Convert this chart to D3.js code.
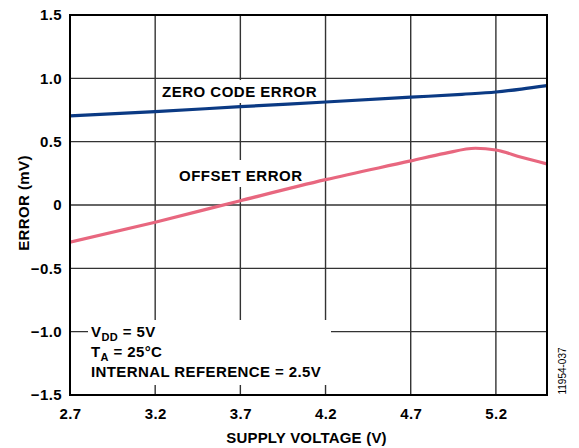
<!DOCTYPE html>
<html><head><meta charset="utf-8">
<script src="https://cdn.jsdelivr.net/npm/d3@7"></script>
<style>
body{margin:0;background:#fff}
svg{display:block}
text{font-family:"Liberation Sans",Arial,Helvetica,sans-serif;font-weight:bold;fill:#000}
</style>
</head><body><svg id="c" width="579" height="448"></svg>
<script>
const xTicks=[2.7,3.2,3.7,4.2,4.7,5.2];
const xTickLabels=["2.7","3.2","3.7","4.2","4.7","5.2"];
const yTicks=[-1.5,-1.0,-0.5,0,0.5,1.0,1.5];
const yTickLabels=["\u22121.5","\u22121.0","\u22120.5","0","0.5","1.0","1.5"];
const zeroVoltage=[2.7,3.2,3.7,4.2,4.7,5.0,5.2,5.35,5.5];
const zeroCodeError=[0.703,0.737,0.776,0.813,0.851,0.874,0.892,0.915,0.942];
const offsetVoltage=[2.7,3.2,3.7,4.2,4.7,4.9,5.08,5.2,5.35,5.5];
const offsetError=[-0.294,-0.136,0.034,0.200,0.348,0.408,0.448,0.434,0.377,0.324];

const W=579,H=448,L=70,R=547,T=15,B=395;
const svg=d3.select("#c");
const x=d3.scaleLinear().domain([2.7,5.5]).range([L,R]);
const y=d3.scaleLinear().domain([-1.5,1.5]).range([B,T]);

// grid
const g=svg.append("g");
g.selectAll("line.v").data(xTicks.slice(1)).join("line")
 .attr("x1",d=>x(d)).attr("x2",d=>x(d)).attr("y1",T).attr("y2",B)
 .attr("stroke","#333").attr("stroke-width",1.4);
g.selectAll("line.h").data(yTicks.slice(1,-1)).join("line")
 .attr("y1",d=>y(d)).attr("y2",d=>y(d)).attr("x1",L).attr("x2",R)
 .attr("stroke","#333").attr("stroke-width",1.4);

// white label backgrounds
const bgs=[[159,80,162,23],[176,160,130,27],[88,320,243,65]];
svg.selectAll("rect.bg").data(bgs).join("rect")
 .attr("x",d=>d[0]).attr("y",d=>d[1]).attr("width",d=>d[2]).attr("height",d=>d[3]).attr("fill","#fff");

// curves
const line=d3.line().curve(d3.curveMonotoneX);
const clip=svg.append("clipPath").attr("id","pc").append("rect").attr("x",L).attr("y",T).attr("width",R-L).attr("height",B-T);
svg.append("path").attr("clip-path","url(#pc)")
 .attr("d",line(zeroVoltage.map((v,i)=>[x(v),y(zeroCodeError[i])])))
 .attr("fill","none").attr("stroke","#0b3a84").attr("stroke-width",3.2);
svg.append("path").attr("clip-path","url(#pc)")
 .attr("d",line(offsetVoltage.map((v,i)=>[x(v),y(offsetError[i])])))
 .attr("fill","none").attr("stroke","#e8677f").attr("stroke-width",3.2);

// axes labels
const ax=svg.append("g").attr("transform",`translate(0,${B})`)
 .call(d3.axisBottom(x).tickValues(xTicks).tickFormat((d,i)=>xTickLabels[i]).tickSize(0).tickPadding(13));
const ay=svg.append("g").attr("transform",`translate(${L},0)`)
 .call(d3.axisLeft(y).tickValues(yTicks).tickFormat((d,i)=>yTickLabels[i]).tickSize(0).tickPadding(8));
[ax,ay].forEach(a=>{a.select(".domain").remove();
 a.selectAll("text").attr("font-family",null).attr("font-size",null).style("font-size","15px").style("letter-spacing","0.4px").attr("fill","#000");});

// border
svg.append("rect").attr("x",L).attr("y",T).attr("width",R-L).attr("height",B-T)
 .attr("fill","none").attr("stroke","#000").attr("stroke-width",2);

const ts="15px";
svg.append("text").attr("x",162).attr("y",97).style("font-size",ts).style("letter-spacing","0.5px").text("ZERO CODE ERROR");
svg.append("text").attr("x",179).attr("y",181).style("font-size",ts).style("letter-spacing","0.5px").text("OFFSET ERROR");

// annotation
const a1=svg.append("text").attr("x",91).attr("y",337).style("font-size",ts).style("letter-spacing","0.4px");
a1.append("tspan").text("V");
a1.append("tspan").attr("dy",4).style("font-size","11px").text("DD");
a1.append("tspan").attr("dy",-4).text(" = 5V");
const a2=svg.append("text").attr("x",91).attr("y",357).style("font-size",ts).style("letter-spacing","0.4px");
a2.append("tspan").text("T");
a2.append("tspan").attr("dy",4).style("font-size","11px").text("A");
a2.append("tspan").attr("dy",-4).text(" = 25°C");
svg.append("text").attr("x",91).attr("y",377).style("font-size",ts).style("letter-spacing","0.4px").text("INTERNAL REFERENCE = 2.5V");

// axis titles
svg.append("text").attr("x",(L+R)/2-2).attr("y",443).attr("text-anchor","middle").style("font-size",ts).style("letter-spacing","0.2px").text("SUPPLY VOLTAGE (V)");
svg.append("text").attr("transform",`translate(28.5,${(T+B)/2-2}) rotate(-90)`).attr("text-anchor","middle").style("font-size",ts).style("letter-spacing","0.4px").text("ERROR (mV)");
svg.append("text").attr("transform","translate(566,371) rotate(-90)").attr("text-anchor","middle").style("font-size","10px").style("font-weight","normal").text("11954-037");
</script></body></html>
